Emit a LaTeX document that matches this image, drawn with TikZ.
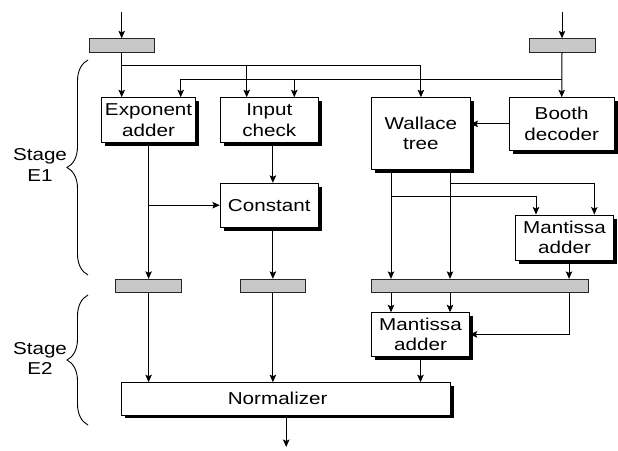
\documentclass[tikz,border=0pt]{standalone}
\usepackage{fontspec}
\setmainfont{Liberation Sans}[FakeStretch=1.2]
\usetikzlibrary{arrows.meta,calc,decorations.pathreplacing}
\definecolor{reggray}{HTML}{C8C8C8}
\begin{document}
\begin{tikzpicture}[x=1pt,y=-1pt,
  font=\fontsize{17.2}{20.5}\selectfont,
  unit/.style={draw=black,line width=0.9pt,fill=white,inner sep=0pt,align=center,
    preaction={draw=none,fill=black,transform canvas={xshift=3.5pt,yshift=-3.5pt}}},
  latch/.style={draw=black!85,line width=0.8pt,fill=reggray,inner sep=0pt,
    minimum height=13.5pt},
  arr/.style={line width=1pt,-{Stealth[length=7.5pt,width=6.5pt,inset=1.5pt]}},
  stagebrace/.style={line width=0.9pt,decorate,decoration={brace,amplitude=21pt}},
  stagelbl/.style={align=center,inner sep=0pt}]
\useasboundingbox (0,0) rectangle (618,450);

% input latches
\node[latch,minimum width=65pt] (regA) at (121.7,45.5) {};
\node[latch,minimum width=66pt] (regB) at (562,45.5) {};

% stage E1 units
\node[unit,minimum width=93.4pt,minimum height=44.6pt] (exp) at (148.6,120) {Exponent\\adder};
\node[unit,minimum width=98pt,minimum height=44.6pt] (inp) at (269.3,120) {Input\\check};
\node[unit,minimum width=98.3pt,minimum height=71.6pt] (wal) at (420.9,133.5) {Wallace\\tree};
\node[unit,minimum width=105.3pt,minimum height=52.3pt] (booth) at (561.7,123.9) {Booth\\decoder};
\node[unit,minimum width=98pt,minimum height=43.8pt] (cons) at (269.3,205.2) {Constant};
\node[unit,minimum width=97.6pt,minimum height=45pt] (man1) at (564.5,237.5) {Mantissa\\adder};

% pipeline latches between the stages
\node[latch,minimum width=65.7pt] (regC) at (148.6,286) {};
\node[latch,minimum width=65.7pt] (regD) at (272.9,286) {};
\node[latch,minimum width=216.6pt] (regE) at (480,286) {};

% stage E2 units
\node[unit,minimum width=97.6pt,minimum height=43.3pt] (man2) at (420.5,334.4) {Mantissa\\adder};
\node[unit,minimum width=329pt,minimum height=32.3pt] (norm) at (286.2,398.8) {Normalizer\hspace{17pt}};

% helper points
\coordinate (inA) at (121.7,12);
\coordinate (inB) at (562,12);
\coordinate (out) at (286.2,447);
\coordinate (bus1) at (0,65);
\coordinate (bus2) at (0,79);
\coordinate (br1) at (0,196.7);
\coordinate (br2) at (0,183.3);
\coordinate (inpL) at ($(inp.north)+(-22.6,0)$);
\coordinate (inpR) at ($(inp.north)+(25,0)$);
\coordinate (expR) at ($(exp.north)+(32.1,0)$);
\coordinate (walL) at ($(wal.south)+(-29.9,0)$);
\coordinate (walR) at ($(wal.south)+(29.1,0)$);
\coordinate (manL) at ($(man1.north)+(-28.5,0)$);
\coordinate (manR) at ($(man1.north)+(29.8,0)$);
\coordinate (mo) at ($(man1.south)+(4.5,0)$);

% operand inputs
\draw[arr] (inA) -- (regA.north);
\draw[arr] (inB) -- (regB.north);
\draw[arr] (regA.south) -- (regA.south |- exp.north);
\draw[arr] (regA.south |- bus1) -| (wal.north);
\draw[arr] (inpL |- bus1) -- (inpL);
\draw[arr] (regB.south) -- (booth.north);
\draw[arr] (regB.south |- bus2) -| (expR);
\draw[arr] (inpR |- bus2) -- (inpR);
\draw[arr] (booth.west) -- (booth.west -| wal.east);

% exponent path
\draw[arr] (exp.south) -- (regC.north);
\draw[arr] (exp.south |- cons.west) -- (cons.west);
\draw[arr] (inp.south -| regD.north) -- (cons.north -| regD.north);
\draw[arr] (cons.south -| regD.north) -- (regD.north);
\draw[arr] (regC.south) -- (regC.south |- norm.north);
\draw[arr] (regD.south) -- (regD.south |- norm.north);

% mantissa path
\draw[arr] (walL) -- (walL |- regE.north);
\draw[arr] (walR) -- (walR |- regE.north);
\draw[arr] (walL |- br1) -| (manL);
\draw[arr] (walR |- br2) -| (manR);
\draw[arr] (mo) -- (mo |- regE.north);
\draw[arr] (walL |- regE.south) -- (walL |- man2.north);
\draw[arr] (walR |- regE.south) -- (walR |- man2.north);
\draw[arr] (mo |- regE.south) |- (man2.east);
\draw[arr] (man2.south) -- (man2.south |- norm.north);
\draw[arr] (norm.south) -- (out);

% stage braces
\draw[stagebrace] (88,275) -- (88,60);
\draw[stagebrace] (88,425) -- (88,295);
\node[stagelbl] (s1) at (40,165) {Stage\\E1};
\node[stagelbl] (s2) at (40,358.5) {Stage\\E2};
\end{tikzpicture}
\end{document}
